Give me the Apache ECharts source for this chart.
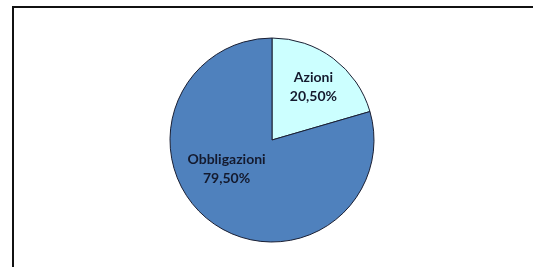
<!DOCTYPE html>
<html>
<head>
<meta charset="utf-8">
<script src="https://cdn.jsdelivr.net/npm/echarts@6/dist/echarts.min.js"></script>
<style>
  html, body { margin: 0; padding: 0; background: #fff; overflow: hidden; }
  #chart { width: 533px; height: 267px; }
</style>
</head>
<body>
<div id="chart"></div>
<script>
// dati del grafico
var categories = ['Azioni', 'Obbligazioni'];
var values = [20.5, 79.5];
var colors = ['#CCFFFF', '#4F81BD'];
// spostamento etichette (Excel le mette un po' diversamente)
var labelOffsets = [[9, -10], [-13, -14]];

var myChart = echarts.init(document.getElementById('chart'));

var pieData = categories.map(function (name, i) {
    return {
        name: name,
        value: values[i],
        itemStyle: { color: colors[i] },
        label: { offset: labelOffsets[i] }
    };
});

var option = {
    animation: false,
    graphic: [
        // cornice del riquadro (solo lato alto e sinistro visibili)
        { type: 'rect', shape: { x: 12, y: 6, width: 540, height: 2 }, style: { fill: '#111' } },
        { type: 'rect', shape: { x: 12, y: 6, width: 2, height: 270 }, style: { fill: '#111' } }
    ],
    series: [
        {
            type: 'pie',
            center: [272, 140],
            radius: 102,
            startAngle: 90,
            clockwise: true,
            silent: true,
            data: pieData,
            itemStyle: {
                borderColor: '#1a1f33',
                borderWidth: 1
            },
            label: {
                show: true,
                position: 'inside',
                formatter: function (p) {
                    return p.name + '\n' + p.value.toFixed(2).replace('.', ',') + '%';
                },
                fontFamily: 'Lato',
                fontWeight: 'bold',
                fontSize: 14,
                lineHeight: 19,
                color: '#141a2e'
            },
            labelLine: { show: false }
        }
    ]
};

myChart.setOption(option);
</script>
</body>
</html>
